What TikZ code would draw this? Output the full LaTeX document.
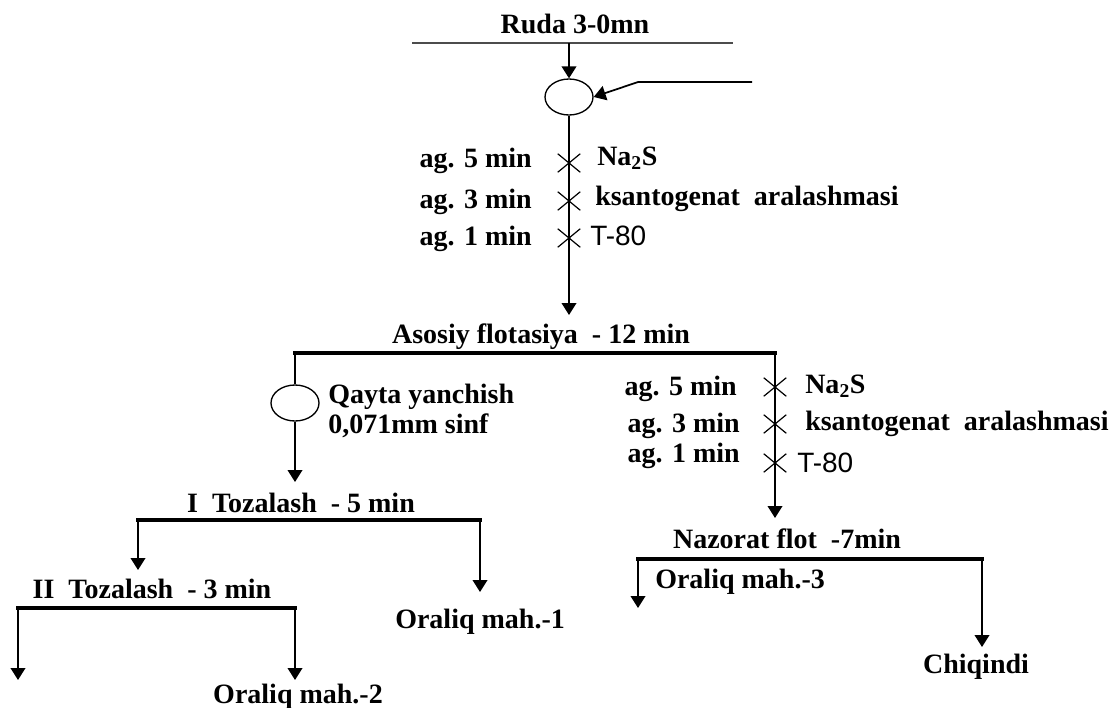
\documentclass[tikz,border=0pt]{standalone}
\usepackage{fontspec}
\setmainfont{Liberation Serif}
\newfontfamily\labelsans{Liberation Sans}
\usetikzlibrary{arrows.meta,shapes.geometric,shapes.misc}

\tikzset{
  lbl/.style={font=\fontsize{21}{25}\selectfont\bfseries, inner sep=0pt},
  sanslbl/.style={font=\fontsize{21}{25}\selectfont\labelsans, inner sep=0pt},
  mill/.style={draw, ellipse, line width=1pt, minimum width=36pt, minimum height=27pt, inner sep=0pt},
  xmark/.style={draw, cross out, line width=0.9pt, minimum width=16pt, minimum height=13pt, inner sep=0pt},
  pipe/.style={line width=1.3pt},
  flow/.style={line width=1.3pt, -{Triangle[width=11pt,length=9pt]}},
  bar/.style={line width=2.6pt, line cap=rect}
}

\begin{document}
\begin{tikzpicture}[x=0.75pt,y=-0.75pt]
        \useasboundingbox (0,0) rectangle (1112,707);
        % ruda
        \node[lbl, anchor=base] (ruda) at (575,33) {Ruda 3-0mn};
        \coordinate (topL) at (412,43);
        \coordinate (topR) at (733,43);
        \coordinate (topM) at (569,43);
        \draw[line width=1pt, black!70] (topL) -- (topR);
        \node[mill] (mill1) at (569,97) {};
        \coordinate (feedE) at (752,82);
        \coordinate (feedK) at (638,82);
        \draw[flow] (topM) -- (mill1);
        \draw[flow] (feedE) -- (feedK) -- (mill1.east);
        % reagents before main flotation
        \node[xmark] (xa1) at (569,163) {};
        \node[xmark] (xa2) at (569,201) {};
        \node[xmark] (xa3) at (569,238) {};
        \node[lbl, anchor=base east] (aga1) at (532,167) {ag. 5 min};
        \node[lbl, anchor=base east] (aga2) at (532,208) {ag. 3 min};
        \node[lbl, anchor=base east] (aga3) at (532,245) {ag. 1 min};
        \node[lbl, anchor=base west] (ra1) at (597,165) {Na\textsubscript{2}S};
        \node[lbl, anchor=base west] (ra2) at (595,205) {ksantogenat\ \ aralashmasi};
        \node[sanslbl, anchor=base west] (ra3) at (590,245) {T-80};
        \coordinate (asIn) at (569,315);
        \draw[flow] (mill1) -- (asIn);
        % asosiy flotasiya
        \node[lbl, anchor=base] (asosiy) at (541,343) {Asosiy flotasiya\ \ - 12 min};
        \coordinate (asL) at (295,353);
        \coordinate (asR) at (775,353);
        \draw[bar] (asL) -- (asR);
        \node[mill] (mill2) at (295,403) {};
        \node[lbl, anchor=base west] (qayta1) at (328,403) {Qayta yanchish};
        \node[lbl, anchor=base west] (qayta2) at (328,433) {0,071mm sinf};
        \coordinate (tzIn) at (295,482);
        \draw[pipe] (asL) -- (mill2);
        \draw[flow] (mill2) -- (tzIn);
        % reagents before control flotation
        \node[xmark] (xb1) at (775,387) {};
        \node[xmark] (xb2) at (775,424) {};
        \node[xmark] (xb3) at (775,463) {};
        \node[lbl, anchor=base east] (agb1) at (737,395) {ag. 5 min};
        \node[lbl, anchor=base east] (agb2) at (740,432) {ag. 3 min};
        \node[lbl, anchor=base east] (agb3) at (740,462) {ag. 1 min};
        \node[lbl, anchor=base west] (rb1) at (805,393) {Na\textsubscript{2}S};
        \node[lbl, anchor=base west] (rb2) at (805,430) {ksantogenat\ \ aralashmasi};
        \node[sanslbl, anchor=base west] (rb3) at (797,472) {T-80};
        \coordinate (nzIn) at (775,518);
        \draw[flow] (asR) -- (nzIn);
        % I tozalash
        \node[lbl, anchor=base] (toz1) at (301,512) {I\ \ Tozalash\ \ - 5 min};
        \coordinate (t1L) at (138,520);
        \coordinate (t1R) at (480,520);
        \draw[bar] (t1L) -- (t1R);
        \coordinate (t2In) at (138,570);
        \coordinate (om1In) at (480,592);
        \draw[flow] (t1L) -- (t2In);
        \draw[flow] (t1R) -- (om1In);
        \node[lbl, anchor=base west] (om1) at (395,628) {Oraliq mah.-1};
        % II tozalash
        \node[lbl, anchor=base] (toz2) at (152,598) {II\ \ Tozalash\ \ - 3 min};
        \coordinate (t2L) at (18,608);
        \coordinate (t2R) at (295,608);
        \draw[bar] (t2L) -- (t2R);
        \coordinate (konIn) at (18,680);
        \coordinate (om2In) at (295,680);
        \draw[flow] (t2L) -- (konIn);
        \draw[flow] (t2R) -- (om2In);
        \node[lbl, anchor=base] (om2) at (298,703) {Oraliq mah.-2};
        % nazorat flotasiya
        \node[lbl, anchor=base] (nazorat) at (787,548) {Nazorat flot\ \ -7min};
        \coordinate (nzL) at (638,559);
        \coordinate (nzR) at (982,559);
        \draw[bar] (nzL) -- (nzR);
        \coordinate (om3In) at (638,608);
        \coordinate (chIn) at (982,647);
        \draw[flow] (nzL) -- (om3In);
        \draw[flow] (nzR) -- (chIn);
        \node[lbl, anchor=base west] (om3) at (655,588) {Oraliq mah.-3};
        \node[lbl, anchor=base] (chiq) at (976,673) {Chiqindi};
\end{tikzpicture}
\end{document}
